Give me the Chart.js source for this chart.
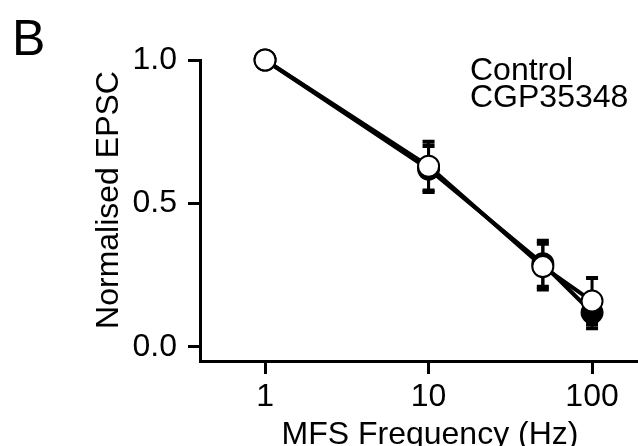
<!DOCTYPE html>
<html lang="en">
<head>
<meta charset="UTF-8">
<title>Normalised EPSC vs MFS frequency</title>
<script src="https://cdn.jsdelivr.net/npm/chart.js"></script>
<style>
  html, body { margin: 0; padding: 0; background: #fff; }
  #wrap { width: 638px; height: 446px; }
</style>
</head>
<body>
<div id="wrap"><canvas id="epscChart" width="638" height="446"></canvas></div>
<script>
  const frequencies = [1, 10, 50, 100];
  const controlMean = [1.0, 0.62, 0.29, 0.12];
  const controlErr = [0, 0.08, 0.08, 0.055];
  const cgpMean = [1.0, 0.63, 0.28, 0.16];
  const cgpErr = [0, 0.085, 0.08, 0.08];
  const xTicks = [1, 10, 100];
  const yTicks = [0, 0.5, 1.0];
  const seriesNames = ["Control", "CGP35348"];
  const xTitle = "MFS Frequency (Hz)";
  const yTitle = "Normalised EPSC";

  const FONT = '"Liberation Sans", Arial, sans-serif';
  Chart.defaults.font.family = FONT;
  Chart.defaults.color = "#000";

  const toPoints = (ys) => frequencies.map((f, i) => ({ x: f, y: ys[i] }));

  // error bars drawn under the markers
  const errorBars = {
    id: "errorBars",
    beforeDatasetsDraw(chart) {
      const ctx = chart.ctx;
      const xs = chart.scales.x, ys = chart.scales.y;
      ctx.save();
      ctx.strokeStyle = "#000";
      chart.data.datasets.forEach(ds => {
        ds.data.forEach((p, i) => {
          const e = ds.errors[i];
          if (!e) return;
          const px = xs.getPixelForValue(p.x);
          const top = ys.getPixelForValue(p.y + e);
          const bot = ys.getPixelForValue(p.y - e);
          ctx.lineWidth = 3;
          ctx.beginPath();
          ctx.moveTo(px, top);
          ctx.lineTo(px, bot);
          ctx.stroke();
          ctx.lineWidth = 4;
          ctx.beginPath();
          ctx.moveTo(px - 6, top); ctx.lineTo(px + 6, top);
          ctx.moveTo(px - 6, bot); ctx.lineTo(px + 6, bot);
          ctx.stroke();
        });
      });
      ctx.restore();
    }
  };

  // panel letter, axis titles and the text-only key
  const labels = {
    id: "labels",
    afterDraw(chart) {
      const ctx = chart.ctx;
      ctx.save();
      ctx.fillStyle = "#000";
      ctx.textBaseline = "alphabetic";
      ctx.textAlign = "left";
      ctx.font = "50px " + FONT;
      ctx.fillText("B", 12, 55);
      ctx.font = "32px " + FONT;
      ctx.fillText(seriesNames[0], 470, 80);
      ctx.fillText(seriesNames[1], 470, 107);

      ctx.textAlign = "center";
      ctx.font = "32px " + FONT;
      ctx.fillText(xTitle, 430, 444);
      ctx.translate(118, 200);
      ctx.rotate(-Math.PI / 2);
      ctx.fillText(yTitle, 0, 0);
      ctx.restore();
    }
  };

  new Chart(document.getElementById("epscChart"), {
    type: "line",
    data: {
      datasets: [
        {
          label: seriesNames[1],
          data: toPoints(cgpMean),
          errors: cgpErr,
          order: 0,
          borderColor: "#000",
          borderWidth: 4,
          pointRadius: 10.5,
          pointBorderWidth: 2,
          pointBorderColor: "#000",
          pointBackgroundColor: "#fff",
          clip: false
        },
        {
          label: seriesNames[0],
          data: toPoints(controlMean),
          errors: controlErr,
          order: 1,
          borderColor: "#000",
          borderWidth: 4,
          pointRadius: 10.5,
          pointBorderWidth: 2,
          pointBorderColor: "#000",
          pointBackgroundColor: "#000",
          clip: false
        }
      ]
    },
    options: {
      responsive: false,
      animation: false,
      devicePixelRatio: 1,
      layout: { autoPadding: false, padding: { top: 60, right: 0, left: 0, bottom: 0 } },
      plugins: { legend: { display: false }, tooltip: { enabled: false } },
      scales: {
        x: {
          type: "logarithmic",
          min: 0.4,
          max: 191,
          afterBuildTicks: s => { s.ticks = xTicks.map(v => ({ value: v })); },
          afterFit: s => { s.height = 85; s.paddingLeft = 0; s.paddingRight = 0; },
          ticks: {
            font: { size: 32 },
            padding: 4,
            autoSkip: false,
            maxRotation: 0,
            callback: v => String(v)
          },
          grid: { drawOnChartArea: false, tickLength: 13, tickWidth: 3, color: "#000" },
          border: { width: 3, color: "#000" }
        },
        y: {
          min: -0.049,
          max: 1.0,
          afterBuildTicks: s => { s.ticks = yTicks.map(v => ({ value: v })); },
          afterFit: s => { s.width = 200; s.paddingTop = 0; s.paddingBottom = 0; },
          ticks: {
            font: { size: 32 },
            padding: 11,
            callback: v => v.toFixed(1)
          },
          grid: { drawOnChartArea: false, tickLength: 12, tickWidth: 3, color: "#000" },
          border: { width: 3, color: "#000" }
        }
      }
    },
    plugins: [errorBars, labels]
  });
</script>
</body>
</html>
